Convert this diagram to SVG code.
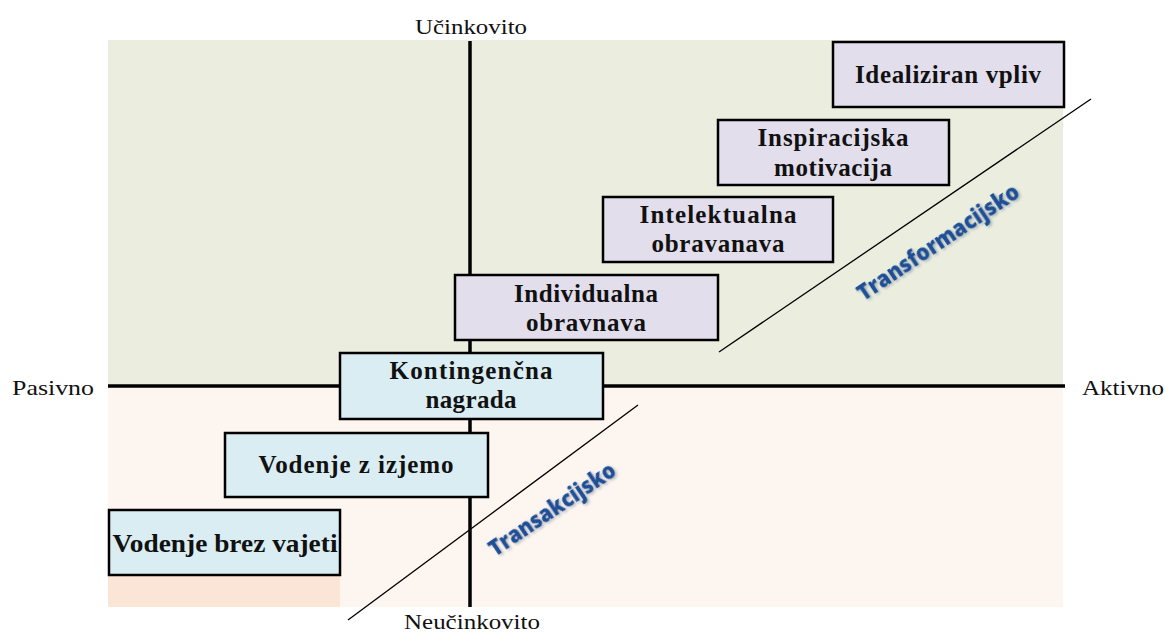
<svg xmlns="http://www.w3.org/2000/svg" width="1165" height="635" viewBox="0 0 1165 635">
<style>
.axis{stroke:#000;stroke-width:3.5;fill:none}
.diag{stroke:#000;stroke-width:1.3;fill:none}
.box{stroke:#000;stroke-width:2.5}
.tf{fill:#E2DEEC}
.ta{fill:#DAEDF3}
.bt{font-family:"Liberation Serif","Times New Roman",serif;font-weight:bold;font-size:25px;fill:#111;text-anchor:middle}
.ax{font-family:"Liberation Serif","Times New Roman",serif;font-size:22px;fill:#111}
.lbl{font-family:"Open Sans","Noto Sans",sans-serif;font-weight:800;font-size:23px;fill:#1C5096;text-anchor:middle}
</style>
<defs>
<filter id="glow" x="-10%" y="-30%" width="120%" height="160%">
<feGaussianBlur in="SourceAlpha" stdDeviation="1.5"/>
<feOffset dx="1" dy="1.5" result="b"/>
<feFlood flood-color="#7a8aa0" flood-opacity="0.6"/>
<feComposite in2="b" operator="in"/>
<feMerge><feMergeNode/><feMergeNode in="SourceGraphic"/></feMerge>
</filter>
</defs>
<rect width="1165" height="635" fill="#fff"/>
<g id="background">
<rect x="108" y="40" width="955" height="346" fill="#EBEEDF"/>
<rect x="108" y="386" width="955" height="221" fill="#FDF5F0"/>
<rect x="108" y="575" width="232" height="32" fill="#FBE5D7"/>
</g>
<g id="axes">
<line class="axis" x1="470" y1="41" x2="470" y2="607"/>
<line class="axis" x1="108" y1="386" x2="1065" y2="386"/>
<text class="ax" x="471" y="34" text-anchor="middle" textLength="112" lengthAdjust="spacingAndGlyphs">Učinkovito</text>
<text class="ax" x="472" y="629" text-anchor="middle" textLength="136" lengthAdjust="spacingAndGlyphs">Neučinkovito</text>
<text class="ax" x="12" y="395" textLength="82" lengthAdjust="spacingAndGlyphs">Pasivno</text>
<text class="ax" x="1082" y="395" textLength="82" lengthAdjust="spacingAndGlyphs">Aktivno</text>
</g>
<g id="connectors">
<line class="diag" x1="719" y1="352" x2="1091" y2="99"/>
<line class="diag" x1="348" y1="620" x2="638" y2="405"/>
</g>
<g id="idealiziran-vpliv">
<rect class="box tf" x="833" y="42" width="231" height="65"/>
<text class="bt" x="948" y="83" textLength="186" lengthAdjust="spacing">Idealiziran vpliv</text>
</g>
<g id="inspiracijska-motivacija">
<rect class="box tf" x="718" y="120" width="231" height="65"/>
<text class="bt" x="833" y="146" textLength="151" lengthAdjust="spacing">Inspiracijska</text>
<text class="bt" x="833" y="176" textLength="118" lengthAdjust="spacing">motivacija</text>
</g>
<g id="intelektualna-obravanava">
<rect class="box tf" x="603" y="197" width="230" height="65"/>
<text class="bt" x="718" y="223" textLength="157" lengthAdjust="spacing">Intelektualna</text>
<text class="bt" x="718" y="252" textLength="133" lengthAdjust="spacing">obravanava</text>
</g>
<g id="individualna-obravnava">
<rect class="box tf" x="455" y="275" width="263" height="65"/>
<text class="bt" x="586" y="302" textLength="144" lengthAdjust="spacing">Individualna</text>
<text class="bt" x="586" y="331" textLength="120" lengthAdjust="spacing">obravnava</text>
</g>
<g id="kontingencna-nagrada">
<rect class="box ta" x="340" y="353" width="263" height="66"/>
<text class="bt" x="471" y="379" textLength="163" lengthAdjust="spacing">Kontingenčna</text>
<text class="bt" x="471" y="408" textLength="91" lengthAdjust="spacing">nagrada</text>
</g>
<g id="vodenje-z-izjemo">
<rect class="box ta" x="225" y="433" width="263" height="64"/>
<text class="bt" x="356" y="473" textLength="195" lengthAdjust="spacing">Vodenje z izjemo</text>
</g>
<g id="vodenje-brez-vajeti">
<rect class="box ta" x="109" y="510" width="231" height="65"/>
<text class="bt" x="225" y="552" textLength="225" lengthAdjust="spacingAndGlyphs">Vodenje brez vajeti</text>
</g>
<g id="labels">
<text class="lbl" filter="url(#glow)" transform="translate(938,242) rotate(-33.8)" x="0" y="8" textLength="190" lengthAdjust="spacingAndGlyphs">Transformacijsko</text>
<text class="lbl" filter="url(#glow)" transform="translate(552,509) rotate(-34)" x="0" y="8" textLength="148" lengthAdjust="spacingAndGlyphs">Transakcijsko</text>
</g>
</svg>
